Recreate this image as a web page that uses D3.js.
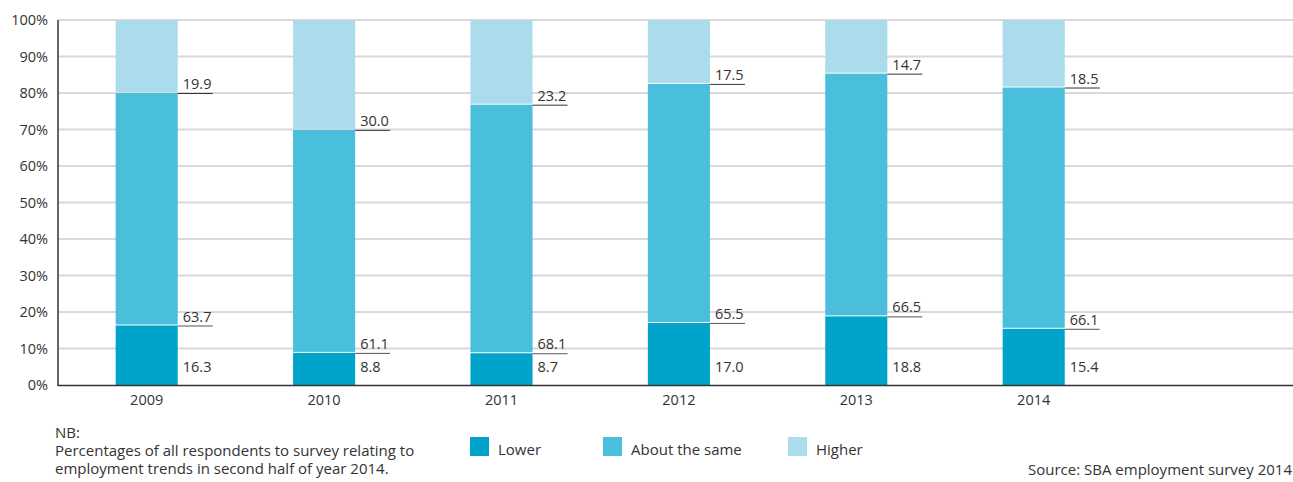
<!DOCTYPE html>
<html><head><meta charset="utf-8">
<script src="https://cdn.jsdelivr.net/npm/d3@7"></script>
<style>body{margin:0;background:#fff}svg{display:block}text{font-family:"Open Sans",sans-serif;fill:#333}</style>
</head><body><svg id="c" width="1293" height="482"></svg>
<script>
const years = ["2009","2010","2011","2012","2013","2014"];
const lower = [16.3, 8.8, 8.7, 17.0, 18.8, 15.4];
const same = [63.7, 61.1, 68.1, 65.5, 66.5, 66.1];
const higher = [19.9, 30.0, 23.2, 17.5, 14.7, 18.5];
const yTicks = [0,10,20,30,40,50,60,70,80,90,100];
const seriesNames = ["Lower","About the same","Higher"];
const colors = ["#00a3c9","#4abfdc","#aadceb"];

(function(){
const svg = d3.select("#c");
const mL = 58, mR = 1293, mT = 20, mB = 385;
const y = d3.scaleLinear().domain([0,100]).range([mB, mT]);
const step = 177.4;
const x = d3.scaleBand().domain(years).range([mL, mL + step*years.length]).paddingInner(0.65).paddingOuter(0.325);

svg.append("g").selectAll("line").data(yTicks.filter(d=>d>0)).join("line")
  .attr("x1", mL).attr("x2", mR).attr("y1", d=>y(d)).attr("y2", d=>y(d))
  .attr("stroke", d=> (d/10)%2===1 ? "#d8d8d8" : "#b4b4b4")
  .attr("stroke-width", d=> (d/10)%2===1 ? 2 : 1);

svg.append("g").selectAll("text").data(yTicks).join("text")
  .attr("x", 48).attr("y", d=>y(d)+5).attr("text-anchor","end")
  .attr("font-size", 14.5).text(d=>d+"%");

const data = years.map((yr,i)=>({yr, vals:[lower[i], same[i], higher[i]]}));
const g = svg.append("g");
data.forEach(d=>{
  let cum = 0;
  d.vals.forEach((v,k)=>{
    const y0 = y(cum), y1 = (k===2) ? y(100) : y(cum+v);
    g.append("rect").attr("x", x(d.yr)).attr("width", x.bandwidth())
      .attr("y", y1).attr("height", Math.max(0, y0 - y1 - (k===0?0:1)))
      .attr("fill", colors[k]);
    cum += v;
  });
  const xr = x(d.yr) + x.bandwidth();
  g.append("text").attr("x", xr+5).attr("y", 372).attr("font-size",14.5).text(d.vals[0].toFixed(1));
  const ya = y(d.vals[0]);
  g.append("line").attr("x1", xr).attr("x2", xr+35).attr("y1", ya+0.5).attr("y2", ya+0.5).attr("stroke","#555");
  g.append("text").attr("x", xr+5).attr("y", ya-4).attr("font-size",14.5).text(d.vals[1].toFixed(1));
  const yh = y(d.vals[0]+d.vals[1]);
  g.append("line").attr("x1", xr).attr("x2", xr+35).attr("y1", yh+0.5).attr("y2", yh+0.5).attr("stroke","#333");
  g.append("text").attr("x", xr+5).attr("y", yh-4).attr("font-size",14.5).text(d.vals[2].toFixed(1));
});

svg.append("line").attr("x1", mL).attr("x2", mL).attr("y1", mT).attr("y2", mB+1).attr("stroke","#333").attr("stroke-width",1.5);
svg.append("line").attr("x1", mL).attr("x2", mR).attr("y1", mB+0.5).attr("y2", mB+0.5).attr("stroke","#333").attr("stroke-width",1.5);

svg.append("g").selectAll("text").data(years).join("text")
  .attr("x", d=>x(d)+x.bandwidth()/2).attr("y", 405).attr("text-anchor","middle")
  .attr("font-size",14.5).text(d=>d);

const nb = ["NB:","Percentages of all respondents to survey relating to","employment trends in second half of year 2014."];
svg.append("g").selectAll("text").data(nb).join("text")
  .attr("x", 55).attr("y", (d,i)=>438 + i*18).attr("font-size",15).text(d=>d);

const legX = [470, 603, 788];
const leg = svg.append("g").selectAll("g").data(seriesNames).join("g")
  .attr("transform",(d,i)=>`translate(${legX[i]},437)`);
leg.append("rect").attr("width",19).attr("height",19).attr("fill",(d,i)=>colors[i]);
leg.append("text").attr("x",28).attr("y",18).attr("font-size",15).text(d=>d);

svg.append("text").attr("x",1292).attr("y",475).attr("text-anchor","end").attr("font-size",15).text("Source: SBA employment survey 2014");
})();
</script></body></html>
